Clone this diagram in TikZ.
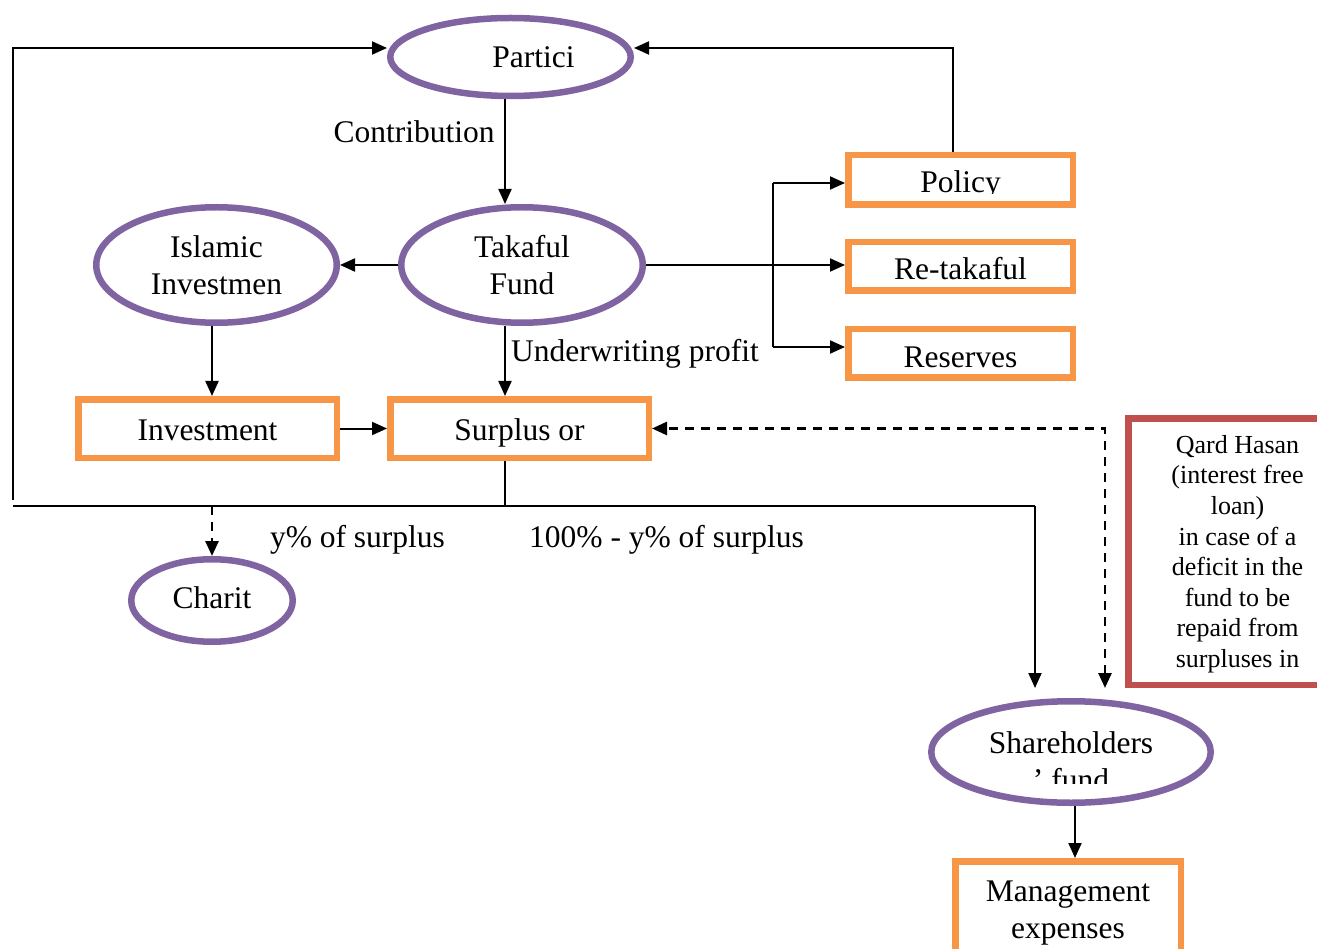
\documentclass[tikz,border=0pt]{standalone}
\usepackage{fontspec}
\setmainfont{Liberation Serif}
\usetikzlibrary{shapes.geometric,arrows.meta,calc}
\definecolor{ovaledge}{HTML}{8064A2}
\definecolor{boxedge}{HTML}{F79646}
\definecolor{loanedge}{HTML}{C0504D}
\begin{document}
\begin{tikzpicture}[x=1pt,y=-1pt,
  every node/.style={inner sep=0pt},
  txt/.style={font=\fontsize{31.5}{37}\selectfont},
  oval/.style={ellipse, draw=ovaledge, line width=6.5pt, txt, align=center},
  fundbox/.style={rectangle, draw=boxedge, line width=6.5pt, txt, text height=21pt, text depth=0pt},
  loanbox/.style={rectangle, draw=loanedge, line width=6.5pt},
  >={Triangle[length=15pt,width=13pt]},
  line/.style={line width=2pt},
  flow/.style={line, ->},
  dashflow/.style={line width=2.6pt, dash pattern=on 9pt off 7pt, ->}
]
\useasboundingbox (0,0) rectangle (1317,949);
\clip (0,0) rectangle (1317,949);

% ovals
\node[oval, minimum width=240.5pt, minimum height=78pt, text height=21pt, text depth=0pt] (part) at (510.5,57) {\hspace*{46pt}Partici};
\node[oval, minimum width=241.5pt, minimum height=115.5pt] (takaful) at (522,265) {Takaful\\Fund};
\node[oval, minimum width=240.5pt, minimum height=115.5pt] (islamic) at (216.5,265) {Islamic\\Investmen};
\node[oval, minimum width=161.5pt, minimum height=82.5pt, text height=16pt, text depth=0pt] (charity) at (212,600.5) {Charit};
\node[oval, minimum width=279.5pt, minimum height=101.5pt] (share) at (1071,752) {};

% boxes
\node[fundbox, minimum width=224.5pt, minimum height=49.5pt] (policy) at (960.5,180) {};
\node[fundbox, minimum width=224.5pt, minimum height=48.5pt, text height=27pt] (retak) at (960.5,266.5) {Re-takaful};
\node[fundbox, minimum width=224.5pt, minimum height=48.5pt, text height=29pt] (reserves) at (960.5,353.5) {Reserves};
\node[fundbox, minimum width=258.5pt, minimum height=58.5pt, text height=23pt] (invest) at (207.5,428.5) {Investment};
\node[fundbox, minimum width=258.5pt, minimum height=58.5pt, text height=23pt] (surplus) at (519.5,428.5) {Surplus or};
\node[fundbox, minimum width=225.5pt, minimum height=119pt] (mgmt) at (1068,920.75) {};
\node[loanbox, minimum width=218.5pt, minimum height=266.5pt] (loan) at (1237.5,551.5) {};

% texts cut off by their frames
\begin{scope}
  \clip (850,156) rectangle (1071,193.8);
  \node[txt, anchor=base] (policy-text) at (960.5,193) {Policy};
\end{scope}
\begin{scope}
  \clip (935,705) rectangle (1207,783);
  \node[txt, anchor=north, align=center] (share-text) at (1071,731.5) {Shareholders\\’ fund};
\end{scope}
\node[txt, anchor=north, align=center] (mgmt-text) at (1068,881) {Management\\expenses};
\node[font=\fontsize{26}{30.6}\selectfont, anchor=north, align=center] (loan-text) at (1237.5,435)
  {Qard Hasan\\(interest free\\loan)\\in case of a\\deficit in the\\fund to be\\repaid from\\surpluses in};

% connector labels
\node[txt, anchor=base] (contrib) at (414,142.5) {Contribution};
\node[txt, anchor=base] (uwprofit) at (635,362) {Underwriting profit};
\node[txt, anchor=base] (charity-share) at (357.5,547) {y\% of surplus};
\node[txt, anchor=base] (holder-share) at (666.5,547) {100\% - y\% of surplus};

% routing points
\coordinate (spine) at (505,0);
\coordinate (split) at (505,506);
\coordinate (leftfoot) at (13,500);
\coordinate (railwest) at (13,506);
\coordinate (raileast) at (1035,506);
\coordinate (holderin) at (1035,688);
\coordinate (loanin) at (1105,688);
\coordinate (bpol) at (773,183);
\coordinate (bres) at (773,347);
\coordinate (mgmtx) at (1075,0);

% connectors
\draw[flow] (leftfoot) |- ($(part.west)+(0,-9)$);
\draw[flow] ($(policy.north)+(-7.5,0)$) |- ($(part.east)+(0,-9)$);
\draw[flow] (spine |- part.south) -- (spine |- takaful.north);
\draw[flow] (takaful.west) -- (islamic.east);
\draw[flow] (takaful.east) -- (takaful.east -| retak.west);
\draw[line] (bpol) -- (bres);
\draw[flow] (bpol) -- (bpol -| policy.west);
\draw[flow] (bres) -- (bres -| reserves.west);
\draw[flow] (spine |- takaful.south) -- (spine |- surplus.north);
\draw[flow] (charity |- islamic.south) -- (charity |- invest.north);
\draw[flow] (invest.east) -- (surplus.west);
\draw[line] (spine |- surplus.south) -- (split);
\draw[line] (railwest) -- (raileast);
\draw[flow] (raileast) -- (holderin);
\draw[dashflow] (charity |- split) -- (charity.north);
\draw[dashflow, <->] (loanin) |- (surplus.east);
\draw[flow] (mgmtx |- share.south) -- (mgmtx |- mgmt.north);
\end{tikzpicture}
\end{document}
